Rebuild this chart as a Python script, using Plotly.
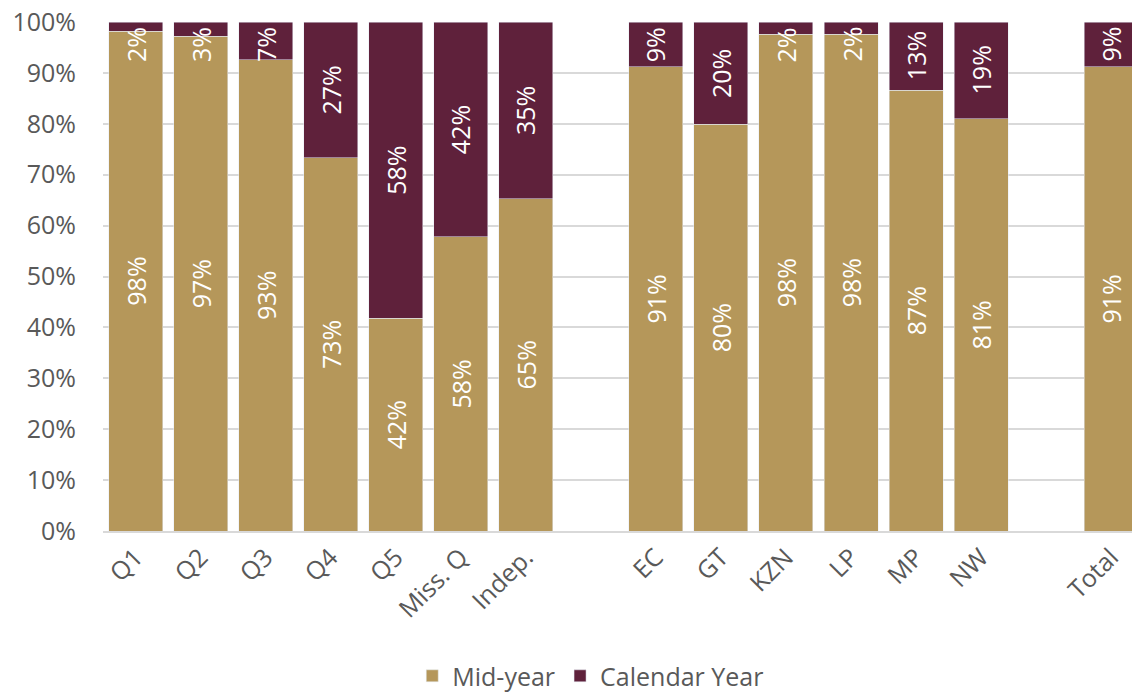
import plotly.graph_objects as go

categories = ["Q1", "Q2", "Q3", "Q4", "Q5", "Miss. Q", "Indep.", " ",
              "EC", "GT", "KZN", "LP", "MP", "NW", "  ", "Total"]
mid_year = [0.982, 0.972, 0.926, 0.733, 0.418, 0.578, 0.653, None,
            0.912, 0.799, 0.976, 0.976, 0.866, 0.810, None, 0.912]
calendar_year = [0.018, 0.028, 0.074, 0.267, 0.582, 0.422, 0.347, None,
                 0.088, 0.201, 0.024, 0.024, 0.134, 0.190, None, 0.088]

GOLD = "#B5975A"
MAROON = "#5F213B"
GREY = "#595959"
FONT = "Open Sans"
FS = 25
PLOT_H = 509  # px of plot area

def pct(v):
    return "" if v is None else f"{round(v * 100):.0f}%"

fig = go.Figure()
fig.add_trace(go.Bar(
    x=categories, y=mid_year, name="Mid-year", marker_color=GOLD,
    text=[pct(v) for v in mid_year], textposition="inside",
    insidetextanchor="middle", textangle=-90,
    textfont=dict(color="white", size=FS, family=FONT),
))
fig.add_trace(go.Bar(
    x=categories, y=calendar_year, name="Calendar Year", marker_color=MAROON,
    hoverinfo="x+y",
))

# Calendar-year labels: centered in the segment, but kept inside the plot top
for c, m, k in zip(categories, mid_year, calendar_year):
    if k is None:
        continue
    t = pct(k)
    half_px = len(t) * FS * 0.33 + 3
    center = m + k / 2
    if (1 - center) * PLOT_H < half_px:
        fig.add_annotation(x=c, y=1, yanchor="top", yshift=-3, text=t,
                           textangle=-90, showarrow=False,
                           font=dict(color="white", size=FS, family=FONT))
    else:
        fig.add_annotation(x=c, y=center, yanchor="middle", text=t,
                           textangle=-90, showarrow=False,
                           font=dict(color="white", size=FS, family=FONT))

fig.update_layout(
    barmode="stack",
    bargap=0.17,
    width=1132, height=695,
    margin=dict(l=103, r=0, t=22, b=164, autoexpand=False),
    paper_bgcolor="white", plot_bgcolor="white",
    font=dict(family=FONT, size=FS, color=GREY),
    showlegend=True,
    legend=dict(orientation="h", x=0.474, xanchor="center", y=-0.285,
                yanchor="middle", font=dict(size=FS, color=GREY),
                traceorder="normal"),
    uniformtext=dict(minsize=FS, mode="show"),
)
fig.update_xaxes(
    type="category", range=[-0.5, 15.32], tickangle=-45, automargin=False,
    showline=True, linecolor="#d9d9d9", linewidth=1.5,
    showgrid=False, ticks="", tickfont=dict(size=FS, color=GREY),
)
fig.update_yaxes(
    range=[0, 1], tickvals=[i / 10 for i in range(11)], tickformat=".0%",
    showgrid=True, gridcolor="#d9d9d9", gridwidth=1.5, zeroline=False,
    showline=False, ticks="", ticklabelstandoff=26, automargin=False,
    tickfont=dict(size=FS, color=GREY),
)

fig.write_html(
    "out.html",
    config={"displayModeBar": False},
    post_script="document.body.style.margin='0';document.body.style.overflow='hidden';",
)
